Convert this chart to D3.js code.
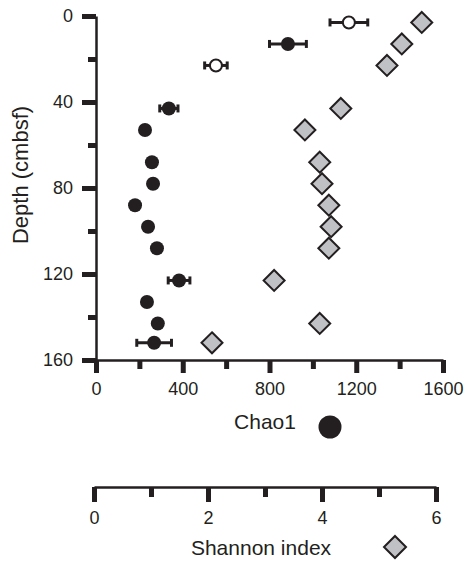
<!DOCTYPE html>
<meta charset="utf-8">
<script src="https://d3js.org/d3.v7.min.js"></script>
<style>
  body { margin: 0; background: #fff; }
  text { font-family: 'Liberation Sans', Arial, sans-serif; fill: #231f20; }
  .axis path { stroke: #231f20; stroke-width: 2.5; }
  .axis line { stroke: #231f20; stroke-width: 5; }
</style>
<body>
<div id="chart"></div>
<script>

// depth (cmbsf) of each sample
var depths = [3, 13, 23, 43, 53, 68, 78, 88, 98, 108, 123, 133, 143, 152];
// Chao1 richness estimate and its error
var chao = [1166, 885, 553, 336, 226, 258, 263, 180, 240, 281, 383, 235, 285, 268];
var chaoErr = [87, 85, 52, 42, 0, 0, 0, 0, 0, 0, 50, 0, 0, 80];
// open symbols
var chaoOpen = [true, false, true, false, false, false, false, false, false, false, false, false, false, false];
// Shannon index (no value at 133)
var shannon = [5.75, 5.40, 5.14, 4.33, 3.70, 3.96, 4.0, 4.12, 4.16, 4.12, 3.16, null, 3.96, 2.07];

var depthTicks = [0, 40, 80, 120, 160];
var depthMinor = [20, 60, 100, 140];
var chaoTicks = [0, 400, 800, 1200, 1600];
var chaoMinor = [200, 600, 1000, 1400];
var shanTicks = [0, 2, 4, 6];
var shanMinor = [1, 3, 5];

var W = 465, H = 561;
var ink = "#231f20";

var svg = d3.select("#chart").append("svg")
  .attr("width", W).attr("height", H);

var y = d3.scaleLinear().domain([0, 160]).range([16, 360]);
var x = d3.scaleLinear().domain([0, 1600]).range([96, 443]);
var xs = d3.scaleLinear().domain([0, 6]).range([94, 436]);

var fmt = d3.format("d");

// Y axis
var yAxisG = svg.append("g").attr("class", "axis").attr("transform", "translate(96,0)");
yAxisG.call(d3.axisLeft(y).tickValues(depthTicks).tickFormat(fmt).tickSize(14).tickPadding(9).tickSizeOuter(0));
yAxisG.append("g").call(d3.axisLeft(y).tickValues(depthMinor).tickSize(8).tickFormat("").tickSizeOuter(0))
  .select(".domain").remove();
yAxisG.selectAll("text").style("font-size", "18px");

// Chao1 axis
var xAxisG = svg.append("g").attr("class", "axis").attr("transform", "translate(0,360)");
xAxisG.call(d3.axisBottom(x).tickValues(chaoTicks).tickFormat(fmt).tickSize(13).tickPadding(9).tickSizeOuter(0));
xAxisG.append("g").call(d3.axisBottom(x).tickValues(chaoMinor).tickSize(9).tickFormat("").tickSizeOuter(0))
  .select(".domain").remove();
xAxisG.selectAll("text").style("font-size", "18px");

// Shannon axis
var sAxisG = svg.append("g").attr("class", "axis").attr("transform", "translate(0,487)");
sAxisG.call(d3.axisBottom(xs).tickValues(shanTicks).tickFormat(fmt).tickSize(15).tickPadding(9).tickSizeOuter(0));
sAxisG.append("g").call(d3.axisBottom(xs).tickValues(shanMinor).tickSize(10).tickFormat("").tickSizeOuter(0))
  .select(".domain").remove();
sAxisG.selectAll("text").style("font-size", "18px");

// axis titles
svg.append("text")
  .attr("transform", "translate(28,175) rotate(-90)")
  .attr("text-anchor", "middle")
  .style("font-size", "22px")
  .text("Depth (cmbsf)");

svg.append("text").attr("x", 265).attr("y", 429)
  .attr("text-anchor", "middle").style("font-size", "21px").text("Chao1");
svg.append("circle").attr("cx", 330).attr("cy", 427).attr("r", 11.5).attr("fill", ink);

svg.append("text").attr("x", 261).attr("y", 555)
  .attr("text-anchor", "middle").style("font-size", "21px").text("Shannon index");

var diamond = function(cx, cy, r) {
  return "M" + cx + "," + (cy - r) + "L" + (cx + r) + "," + cy +
         "L" + cx + "," + (cy + r) + "L" + (cx - r) + "," + cy + "Z";
};
svg.append("path").attr("d", diamond(395, 547, 11))
  .attr("fill", "#c0c1c4").attr("stroke", ink).attr("stroke-width", 2);

var rows = depths.map(function(d, i) {
  return {depth: d, chao: chao[i], err: chaoErr[i], open: chaoOpen[i], sh: shannon[i]};
});

// Shannon diamonds
svg.append("g").selectAll("path")
  .data(rows.filter(function(d) { return d.sh != null; }))
  .enter().append("path")
  .attr("d", function(d) { return diamond(xs(d.sh), y(d.depth), 10.5); })
  .attr("fill", "#c0c1c4").attr("stroke", ink).attr("stroke-width", 2);

// Chao1 error bars
var eb = svg.append("g").selectAll("g")
  .data(rows.filter(function(d) { return d.err > 0; }))
  .enter().append("g").attr("stroke", ink);
eb.append("line")
  .attr("x1", function(d) { return x(d.chao - d.err); })
  .attr("x2", function(d) { return x(d.chao + d.err); })
  .attr("y1", function(d) { return y(d.depth); })
  .attr("y2", function(d) { return y(d.depth); })
  .attr("stroke-width", 3);
eb.selectAll(".cap")
  .data(function(d) { return [[d.chao - d.err, d.depth], [d.chao + d.err, d.depth]]; })
  .enter().append("line").attr("class", "cap")
  .attr("x1", function(d) { return x(d[0]); })
  .attr("x2", function(d) { return x(d[0]); })
  .attr("y1", function(d) { return y(d[1]) - 4; })
  .attr("y2", function(d) { return y(d[1]) + 4; })
  .attr("stroke-width", 3);

// Chao1 circles
svg.append("g").selectAll("circle")
  .data(rows)
  .enter().append("circle")
  .attr("cx", function(d) { return x(d.chao); })
  .attr("cy", function(d) { return y(d.depth); })
  .attr("r", function(d) { return d.open ? 6 : 7; })
  .attr("fill", function(d) { return d.open ? "#fff" : ink; })
  .attr("stroke", ink)
  .attr("stroke-width", function(d) { return d.open ? 2 : 0; });

</script>
</body>
